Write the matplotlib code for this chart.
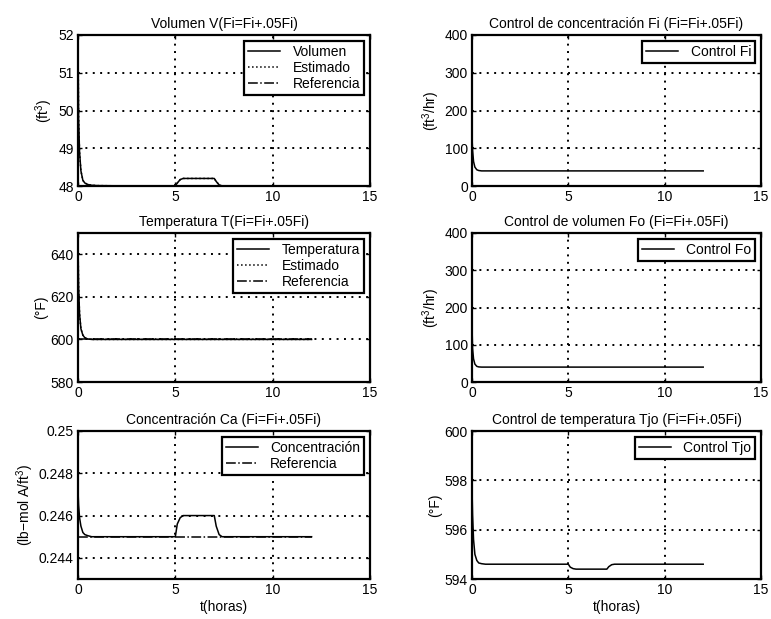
import matplotlib
matplotlib.use("Agg")
import matplotlib.pyplot as plt

plt.rcParams['font.family'] = ['Liberation Sans', 'DejaVu Sans']
plt.rcParams['font.size'] = 10
plt.rcParams['mathtext.default'] = 'regular'

# time grid (horas) shared by all responses
t = [0.0, 0.03, 0.08, 0.15, 0.25, 0.35, 0.5, 0.7, 1.0, 3.0, 5.0, 5.1, 5.25, 5.4, 7.0, 7.1, 7.25, 7.4, 9.0, 12.0]

# Volumen V (ft^3)
vol = [52.0, 49.8, 48.9, 48.4, 48.15, 48.08, 48.04, 48.02, 48.01, 48.0, 48.0, 48.08, 48.17, 48.2, 48.2, 48.12, 48.03, 48.0, 48.0, 48.0]
vol_est = vol
vol_ref = [48.0] * len(t)

# Temperatura T (°F)
temp = [646.0, 625.0, 612.0, 605.0, 602.0, 600.8, 600.2, 600.0, 600.0, 600.0, 600.0, 600.0, 600.0, 600.0, 600.0, 600.0, 600.0, 600.0, 600.0, 600.0]
temp_est = temp
temp_ref = [600.0] * len(t)

# Concentración Ca (lb-mol A/ft^3)
conc = [0.2472, 0.2465, 0.2459, 0.2455, 0.2452, 0.2451, 0.24505, 0.2450, 0.2450, 0.2450, 0.2450, 0.2456, 0.2459, 0.2460, 0.2460, 0.2455, 0.2451, 0.2450, 0.2450, 0.2450]
conc_ref = [0.2450] * len(t)

# Control Fi (ft^3/hr)
fi = [130.0, 95.0, 65.0, 50.0, 43.0, 41.0, 40.0, 40.0, 40.0, 40.0, 40.0, 40.0, 40.0, 40.0, 40.0, 40.0, 40.0, 40.0, 40.0, 40.0]

# Control Fo (ft^3/hr)
fo = [150.0, 90.0, 62.0, 48.0, 42.0, 40.5, 40.0, 40.0, 40.0, 40.0, 40.0, 40.0, 40.0, 40.0, 40.0, 40.0, 40.0, 40.0, 40.0, 40.0]

# Control Tjo (°F)
tjo = [597.7, 596.6, 595.6, 595.0, 594.75, 594.65, 594.62, 594.6, 594.6, 594.6, 594.6, 594.48, 594.42, 594.4, 594.4, 594.5, 594.58, 594.6, 594.6, 594.6]

xticks = [0, 5, 10, 15]

fig = plt.figure(figsize=(7.71, 6.19), dpi=100)
W, H = 771.0, 619.0

def make_axes(x0, x1, y0, y1):
    return fig.add_axes([x0 / W, 1 - y1 / H, (x1 - x0) / W, (y1 - y0) / H])

cols = [(78, 370), (472, 761)]
rows = [(35, 186), (233, 382), (431, 579)]

def style(ax, ylim, yticks, title, ylabel, xlabel=None, yfmt=None):
    ax.set_xlim(0, 15)
    ax.set_ylim(*ylim)
    ax.set_xticks(xticks)
    ax.set_yticks(yticks)
    if yfmt:
        ax.set_yticklabels([yfmt(v) for v in yticks])
    ax.grid(True, color='black', linestyle=(0, (1.0, 2.8)), linewidth=1.4)
    ax.tick_params(direction='in', length=3, width=1.0, top=True, right=True, pad=3, labelsize=10)
    for s in ax.spines.values():
        s.set_linewidth(1.6)
    ax.set_title(title, fontsize=10, pad=5)
    ax.set_ylabel(ylabel, fontsize=10, labelpad=2)
    if xlabel:
        ax.set_xlabel(xlabel, fontsize=10, labelpad=2)

def legend(ax, **kw):
    leg = ax.legend(loc='upper right', fontsize=10, frameon=True, fancybox=False,
                    edgecolor='black', framealpha=1, labelspacing=0.15,
                    handlelength=2.3, handletextpad=0.9, borderpad=0.3,
                    borderaxespad=0.4, **kw)
    leg.get_frame().set_linewidth(1.6)

lw = 1.1

# Volumen
ax = make_axes(cols[0][0], cols[0][1], rows[0][0], rows[0][1])
ax.plot(t, vol, 'k-', lw=lw, label='Volumen')
ax.plot(t, vol_est, 'k:', lw=lw, label='Estimado')
ax.plot(t, vol_ref, 'k-.', lw=lw, label='Referencia')
style(ax, (48, 52), [48, 49, 50, 51, 52], 'Volumen V(Fi=Fi+.05Fi)', '(ft$^3$)')
legend(ax)

# Control Fi
ax = make_axes(cols[1][0], cols[1][1], rows[0][0], rows[0][1])
ax.plot(t, fi, 'k-', lw=lw, label='Control Fi')
style(ax, (0, 400), [0, 100, 200, 300, 400], 'Control de concentración Fi (Fi=Fi+.05Fi)', '(ft$^3$/hr)')
legend(ax)

# Temperatura
ax = make_axes(cols[0][0], cols[0][1], rows[1][0], rows[1][1])
ax.plot(t, temp, 'k-', lw=lw, label='Temperatura')
ax.plot(t, temp_est, 'k:', lw=lw, label='Estimado')
ax.plot(t, temp_ref, 'k-.', lw=lw, label='Referencia')
style(ax, (580, 650), [580, 600, 620, 640], 'Temperatura T(Fi=Fi+.05Fi)', '(°F)')
legend(ax)

# Control Fo
ax = make_axes(cols[1][0], cols[1][1], rows[1][0], rows[1][1])
ax.plot(t, fo, 'k-', lw=lw, label='Control Fo')
style(ax, (0, 400), [0, 100, 200, 300, 400], 'Control de volumen Fo (Fi=Fi+.05Fi)', '(ft$^3$/hr)')
legend(ax)

# Concentración
ax = make_axes(cols[0][0], cols[0][1], rows[2][0], rows[2][1])
ax.plot(t, conc, 'k-', lw=lw, label='Concentración')
ax.plot(t, conc_ref, 'k-.', lw=lw, label='Referencia')
style(ax, (0.243, 0.250), [0.244, 0.246, 0.248, 0.250], 'Concentración Ca (Fi=Fi+.05Fi)',
      '(lb$-$mol A/ft$^3$)', 't(horas)', yfmt=lambda v: f'{v:g}')
legend(ax)

# Control Tjo
ax = make_axes(cols[1][0], cols[1][1], rows[2][0], rows[2][1])
ax.plot(t, tjo, 'k-', lw=lw, label='Control Tjo')
style(ax, (594, 600), [594, 596, 598, 600], 'Control de temperatura Tjo (Fi=Fi+.05Fi)', '(°F)', 't(horas)')
legend(ax)

fig.savefig('out.png', dpi=100, facecolor='white')
